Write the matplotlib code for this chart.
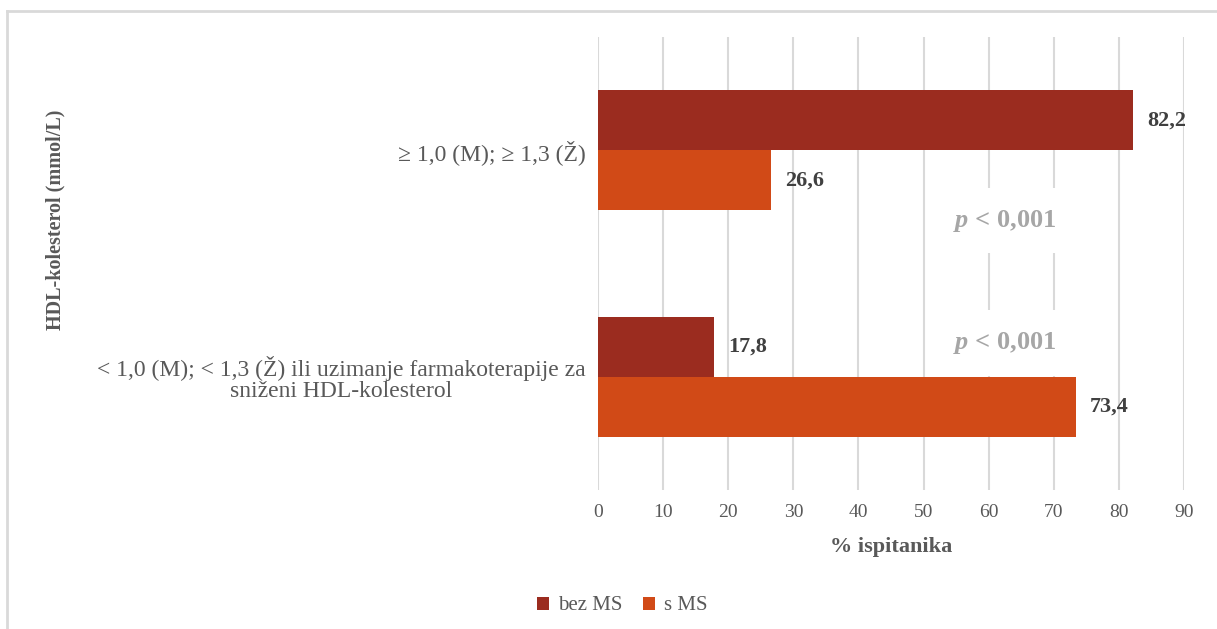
import matplotlib.pyplot as plt
from matplotlib.lines import Line2D
import numpy as np

plt.rcParams['font.family'] = ['Liberation Serif', 'DejaVu Serif']
plt.rcParams['mathtext.fontset'] = 'custom'
plt.rcParams['mathtext.it'] = 'Liberation Serif:italic:bold'
plt.rcParams['mathtext.rm'] = 'Liberation Serif:bold'

# data
categories = ['\u2265 1,0 (M); \u2265 1,3 (\u017d)',
              '< 1,0 (M); < 1,3 (\u017d) ili uzimanje farmakoterapije za\nsni\u017eeni HDL-kolesterol']
series_names = ['bez MS', 's MS']
bez_ms = [82.2, 17.8]
s_ms = [26.6, 73.4]
p_values = ['0,001', '0,001']
xticks = list(range(0, 100, 10))

colors = ['#9B2C1F', '#D14A17']
gray_text = '#595959'

fig = plt.figure(figsize=(12.17, 6.29), dpi=100)
ax = fig.add_axes([598 / 1217, 1 - 490 / 629, (1184 - 598) / 1217, (490 - 37) / 629])

y = np.arange(len(categories))
h = 0.265
bars1 = ax.barh(y - h / 2, bez_ms, height=h, color=colors[0], label=series_names[0], zorder=2)
bars2 = ax.barh(y + h / 2, s_ms, height=h, color=colors[1], label=series_names[1], zorder=2)

# value labels
for bars in (bars1, bars2):
    for b in bars:
        val = b.get_width()
        ax.annotate(f'{val:.1f}'.replace('.', ','),
                    xy=(val, b.get_y() + b.get_height() / 2),
                    xytext=(14, 0), textcoords='offset pixels',
                    ha='left', va='center', fontsize=16, fontweight='bold', color='#404040')

ax.set_xlim(0, 90)
ax.set_ylim(-0.5, 1.5)
ax.invert_yaxis()
ax.set_xticks(xticks)
ax.set_xticklabels([str(t) for t in xticks], fontsize=14, color=gray_text)
ax.set_yticks(y)
ax.set_yticklabels(categories, fontsize=17, color=gray_text, ha='right',
                   multialignment='center', linespacing=1.0)
ax.tick_params(axis='both', length=0)
ax.tick_params(axis='y', pad=9)
ax.tick_params(axis='x', pad=10)
ax.grid(axis='x', color='#D9D9D9', linewidth=1.5)
ax.set_axisbelow(True)
for s in ax.spines.values():
    s.set_visible(False)

# p-value annotations (white boxes hide gridlines)
for pv, yf in zip(p_values, [0.594, 0.3245]):
    ax.text(0.6945, yf, r'$\mathit{p}$ < ' + pv, transform=ax.transAxes,
            ha='center', va='center', fontsize=19, fontweight='bold', color='#A6A6A6',
            bbox=dict(facecolor='white', edgecolor='none', pad=14), zorder=1.5)

fig.text(891 / 1217, 1 - 547 / 629, '% ispitanika', ha='center', va='center',
         fontsize=16, fontweight='bold', color=gray_text)
fig.text(55 / 1217, 1 - 220 / 629, 'HDL-kolesterol (mmol/L)', rotation=90,
         ha='center', va='center', fontsize=14.5, fontweight='bold', color=gray_text)

fig.legend(loc='center', bbox_to_anchor=(622 / 1217, 1 - 606 / 629), ncol=2,
           frameon=False, fontsize=15, handlelength=0.6, handleheight=0.6,
           handletextpad=0.4, columnspacing=1.0, labelcolor=gray_text)

# chart border (top and left)
fig.add_artist(Line2D([7 / 1217, 7 / 1217], [0, 1 - 11 / 629], transform=fig.transFigure,
                      color='#D9D9D9', linewidth=2))
fig.add_artist(Line2D([7 / 1217, 1216 / 1217], [1 - 11 / 629, 1 - 11 / 629],
                      transform=fig.transFigure, color='#D9D9D9', linewidth=2))

fig.savefig('out.png', dpi=100)
